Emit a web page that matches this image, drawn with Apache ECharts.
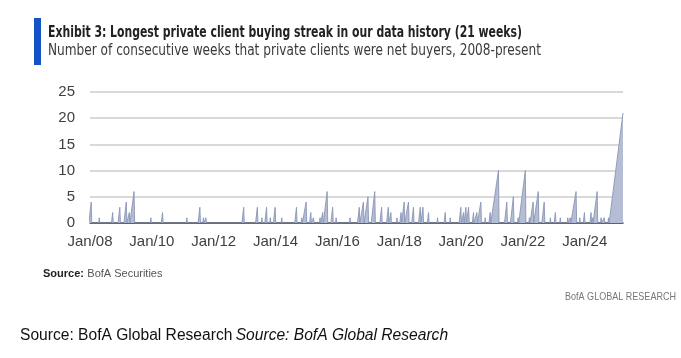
<!DOCTYPE html>
<html><head><meta charset="utf-8">
<script src="https://cdn.jsdelivr.net/npm/echarts@6/dist/echarts.min.js"></script>
<style>html,body{margin:0;padding:0;background:#fff}#c{width:681px;height:358px}</style>
</head><body><div id="c"></div>
<script>
const titleText = 'Exhibit 3: Longest private client buying streak in our data history (21 weeks)';
const subtitleText = 'Number of consecutive weeks that private clients were net buyers, 2008-present';
const sourceLabel = 'Source:';
const sourceName = 'BofA Securities';
const brandText = 'BofA GLOBAL RESEARCH';
const footerText = 'Source: BofA Global Research';
const yAxisMin = 0, yAxisMax = 25, yAxisStep = 5;
const xAxisStartYear = 2008, xAxisStepYears = 2;

// Week in which each buying streak peaked, and its length in weeks
const streakPeakDates = [
 '2008-01-15','2008-04-20','2008-09-25','2008-12-19','2009-03-05','2009-04-10','2009-06-05',
 '2009-12-20','2010-05-07','2011-02-18','2011-07-22','2011-09-01','2011-10-01',
 '2012-12-21','2013-05-31','2013-07-24','2013-09-17','2013-10-31','2013-12-27',
 '2014-03-15','2014-09-05','2014-11-06','2014-12-28','2015-02-21','2015-03-25',
 '2015-06-10','2015-07-12','2015-09-02','2015-11-06','2015-12-17',
 '2016-05-30','2016-09-16','2016-11-04','2016-12-28','2017-03-18','2017-06-07',
 '2017-08-25','2017-09-24','2017-12-05','2018-01-22','2018-02-28','2018-04-20',
 '2018-06-18','2018-09-06','2018-10-08','2018-12-13','2019-03-29','2019-06-28',
 '2019-08-26','2019-12-29','2020-01-30','2020-02-27','2020-03-30','2020-05-27',
 '2020-07-06','2020-08-22','2020-10-12','2020-12-10','2021-03-18','2021-06-25',
 '2021-09-10','2021-11-05','2022-01-29','2022-03-18','2022-05-01','2022-07-01',
 '2022-09-09','2022-11-21','2023-01-19','2023-03-18','2023-06-14','2023-07-13',
 '2023-09-20','2023-11-03','2023-12-28','2024-03-15','2024-04-01','2024-05-26',
 '2024-07-12','2024-08-18','2024-10-08','2025-03-28'
];
const streakLengths = [
 4,1,2,3,4,2,6,
 1,2,1,3,1,1,
 3,3,1,3,1,3,
 1,3,1,4,2,1,
 1,2,6,3,1,
 1,3,4,5,6,3,
 3,2,1,2,4,4,
 3,3,3,2,1,2,
 1,3,2,3,3,2,
 2,4,1,2,10,4,
 5,1,10,1,4,6,
 4,1,2,1,1,1,
 6,1,2,2,1,6,
 1,1,1,21
];

const WEEK = 7 * 864e5;
function toYear(t){
  const d = new Date(t); const y = d.getUTCFullYear();
  const s = Date.UTC(y,0,1), e = Date.UTC(y+1,0,1);
  return y + (t - s) / (e - s);
}
const lastT = Date.parse(streakPeakDates[streakPeakDates.length-1] + 'T00:00:00Z');
const pts = [];
streakPeakDates.forEach((d,i)=>{
  const p = Date.parse(d + 'T00:00:00Z'); const n = streakLengths[i];
  pts.push([p - n*WEEK, 0]); pts.push([p, n]);
  if (p + WEEK <= lastT) pts.push([p + WEEK, 0]);
});
pts.sort((a,b)=>a[0]-b[0]);
const seriesData = pts.map(([t,v])=>[toYear(t), v]);

const ctx = document.createElement('canvas').getContext('2d');
function fitScale(text, font, w){ ctx.font = font; return w / ctx.measureText(text).width; }
const titleFont = 'bold 16px "Liberation Sans Narrow", "DejaVu Sans Condensed", sans-serif';
const subFont = '300 16px "Liberation Sans Narrow", "DejaVu Sans Condensed", sans-serif';
const narrow = '"Liberation Sans Narrow", "Liberation Sans", Arial, sans-serif';
const brandFont = '10.5px ' + narrow;

const chart = echarts.init(document.getElementById('c'), null, {renderer:'canvas'});
chart.setOption({
  animation:false,
  backgroundColor:'#ffffff',
  grid:{left:90, right:58, top:92, bottom:135},
  xAxis:{
    type:'value', min:xAxisStartYear, max:toYear(lastT), interval:xAxisStepYears,
    axisLine:{show:true, lineStyle:{color:'#3a3a3a', width:1.5}},
    axisTick:{show:false}, splitLine:{show:false},
    axisLabel:{margin:11, fontSize:15, fontFamily:narrow, color:'#404040', showMaxLabel:false,
      formatter:v=>'Jan/' + String(Math.round(v)).slice(2)}
  },
  yAxis:{
    type:'value', min:yAxisMin, max:yAxisMax, interval:yAxisStep,
    axisLine:{show:false}, axisTick:{show:false},
    splitLine:{lineStyle:{color:'#cdcdcd', width:1.5}},
    axisLabel:{margin:15, fontSize:15, fontFamily:narrow, color:'#404040'}
  },
  series:[{
    type:'line', data:seriesData, showSymbol:false, silent:true,
    lineStyle:{color:'#8a96b7', width:0.9},
    areaStyle:{color:'#b5bdd4', opacity:1}
  }],
  graphic:[
    {type:'rect', shape:{x:34, y:18, width:7, height:47}, style:{fill:'#1552c6'}},
    {type:'text', x:48, y:33, scaleX:fitScale(titleText, titleFont, 474),
      style:{text:titleText, font:titleFont, fill:'#222', verticalAlign:'middle'}},
    {type:'text', x:48, y:51, scaleX:fitScale(subtitleText, subFont, 493),
      style:{text:subtitleText, font:subFont, fill:'#3a3a3a', verticalAlign:'middle'}},
    {type:'text', x:43, y:274, style:{
      text:'{b|' + sourceLabel + '} {n|' + sourceName + '}', verticalAlign:'middle',
      rich:{b:{font:'bold 11px ' + narrow, fill:'#222'}, n:{font:'11px ' + narrow, fill:'#555'}}}},
    {type:'text', x:676, y:297, scaleX:fitScale(brandText, brandFont, 111),
      style:{text:brandText, font:brandFont, fill:'#777', align:'right', verticalAlign:'middle'}},
    {type:'text', x:20, y:336, style:{
      text:'{r|' + footerText + '} {i|' + footerText + '}', verticalAlign:'middle',
      rich:{r:{font:'15.6px "Liberation Sans", Arial, sans-serif', fill:'#111'}, i:{font:'italic 15.6px "Liberation Sans", Arial, sans-serif', fill:'#111'}}}}
  ]
});
</script></body></html>
